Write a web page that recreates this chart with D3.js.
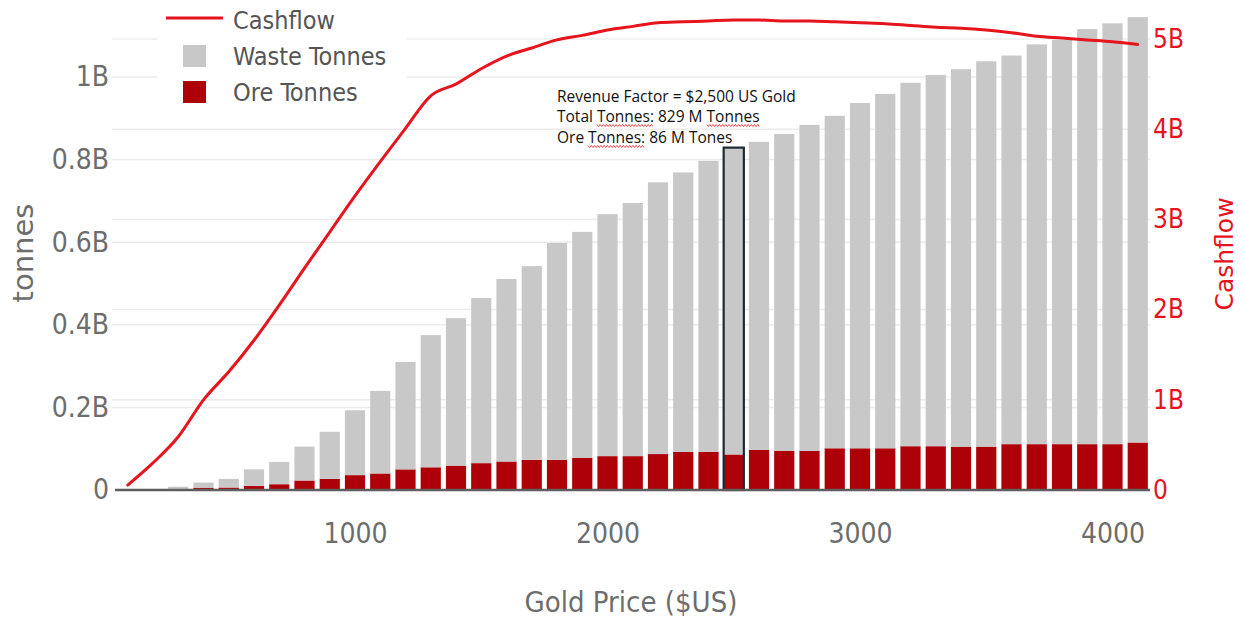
<!DOCTYPE html>
<html>
<head>
<meta charset="utf-8">
<script src="https://cdn.jsdelivr.net/npm/d3@7"></script>
<style>
  html, body { margin: 0; padding: 0; background: #ffffff; }
  svg { display: block; }
  .cond { font-family: "DejaVu Sans Condensed", "DejaVu Sans", sans-serif; font-stretch: condensed; }
  .plain { font-family: "DejaVu Sans", sans-serif; }
  .note { font-family: "Open Sans", sans-serif; }
</style>
</head>
<body>
<svg id="chart" width="1245" height="618"></svg>
<script>
// Gold price scenarios ($US / oz)
const goldPrice = [100, 200, 300, 400, 500, 600, 700, 800, 900, 1000,
  1100, 1200, 1300, 1400, 1500, 1600, 1700, 1800, 1900, 2000,
  2100, 2200, 2300, 2400, 2500, 2600, 2700, 2800, 2900, 3000,
  3100, 3200, 3300, 3400, 3500, 3600, 3700, 3800, 3900, 4000, 4100];

// Ore tonnes per scenario (millions of tonnes)
const oreMt = [0.2, 0.5, 1.5, 5.5, 6, 10, 14, 23, 27, 36,
  40, 50, 55, 59, 65, 69, 73, 73, 78, 82,
  82, 87, 92, 92, 86, 97, 95, 95, 101, 101,
  101, 106, 106, 105, 105, 111, 111, 111, 111, 111, 115];

// Waste tonnes per scenario (millions of tonnes)
const wasteMt = [0.8, 1.5, 6.5, 12.5, 21, 40, 54, 82, 114, 157,
  200, 260, 320, 357, 400, 442, 469, 525, 547, 586,
  613, 658, 677, 705, 743, 746, 767, 789, 805, 836,
  858, 880, 899, 914, 933, 941, 968, 979, 1005, 1019, 1030];

// Undiscounted cashflow per scenario (billions $US)
const cashflowB = [0.055, 0.30, 0.59, 1.00, 1.31, 1.66, 2.05, 2.46, 2.86, 3.26,
  3.64, 4.01, 4.37, 4.50, 4.67, 4.81, 4.90, 4.99, 5.04, 5.10,
  5.14, 5.18, 5.19, 5.20, 5.21, 5.21, 5.20, 5.20, 5.19, 5.18,
  5.17, 5.15, 5.13, 5.12, 5.10, 5.07, 5.03, 5.01, 4.99, 4.97, 4.94];

const xTicks = [1000, 2000, 3000, 4000];
const xTickLabels = ["1000", "2000", "3000", "4000"];
const tonneTicks = [0, 0.2e9, 0.4e9, 0.6e9, 0.8e9, 1e9];
const tonneTickLabels = ["0", "0.2B", "0.4B", "0.6B", "0.8B", "1B"];
const cashTicks = [0, 1e9, 2e9, 3e9, 4e9, 5e9];
const cashTickLabels = ["0", "1B", "2B", "3B", "4B", "5B"];

const seriesNames = ["Cashflow", "Waste Tonnes", "Ore Tonnes"];
const highlightPrice = 2500;
const annotationLines = [
  "Revenue Factor = $2,500 US Gold",
  "Total Tonnes: 829 M Tonnes",
  "Ore Tonnes: 86 M Tones"
];
// words flagged with a wavy underline: [line index, substring]
const flaggedWords = [[1, "Tonnes:"], [1, "Tonnes"], [2, "Tonnes:"]];

const colors = {
  ore: "#ae0009",
  waste: "#c8c8c8",
  cash: "#e5141d",
  grid: "#ececec",
  axis: "#5e5e5e",
  tick: "#6d6d6d",
  legendText: "#555555",
  highlight: "#1b2a34"
};

const rows = goldPrice.map((p, i) => ({
  price: p,
  ore: oreMt[i] * 1e6,
  waste: wasteMt[i] * 1e6,
  cash: cashflowB[i] * 1e9
}));

const svg = d3.select("#chart");

const plotLeft = 112, plotRight = 1150, baseY = 490;

const x = d3.scaleLinear().domain([1000, 4000]).range([355, 1112.5]);
const yT = d3.scaleLinear().domain([0, 1e9]).range([baseY, 77]);
const yC = d3.scaleLinear().domain([0, 5e9]).range([baseY, 39]);
const barW = (x(100) - x(0)) * 0.8;

// gridlines for both value axes
const grid = svg.append("g");
grid.selectAll("line.gt").data(tonneTicks.slice(1)).join("line")
  .attr("x1", plotLeft).attr("x2", plotRight)
  .attr("y1", d => yT(d)).attr("y2", d => yT(d))
  .attr("stroke", colors.grid).attr("stroke-width", 1.5);
grid.selectAll("line.gc").data(cashTicks.slice(1)).join("line")
  .attr("x1", plotLeft).attr("x2", plotRight)
  .attr("y1", d => yC(d)).attr("y2", d => yC(d))
  .attr("stroke", colors.grid).attr("stroke-width", 1.5);

// stacked tonnage bars
const stack = d3.stack().keys(["ore", "waste"])(rows);
const barG = svg.append("g");
barG.selectAll("g").data(stack).join("g")
  .attr("fill", d => d.key === "ore" ? colors.ore : colors.waste)
  .selectAll("rect").data(d => d).join("rect")
  .attr("x", d => x(d.data.price) - barW / 2)
  .attr("width", barW)
  .attr("y", d => yT(d[1]))
  .attr("height", d => yT(d[0]) - yT(d[1]));

// outline for the selected revenue factor
const hi = rows.find(r => r.price === highlightPrice);
svg.append("rect")
  .attr("x", x(hi.price) - barW / 2)
  .attr("y", yT(hi.ore + hi.waste))
  .attr("width", barW)
  .attr("height", yT(0) - yT(hi.ore + hi.waste))
  .attr("fill", "none")
  .attr("stroke", colors.highlight)
  .attr("stroke-width", 2.2);

// baseline
svg.append("line")
  .attr("x1", 115).attr("x2", plotRight)
  .attr("y1", baseY).attr("y2", baseY)
  .attr("stroke", colors.axis).attr("stroke-width", 2.5);

// cashflow curve on the right axis
const line = d3.line()
  .x(d => x(d.price))
  .y(d => yC(d.cash))
  .curve(d3.curveMonotoneX);
svg.append("path").datum(rows)
  .attr("d", line)
  .attr("fill", "none")
  .attr("stroke", colors.cash)
  .attr("stroke-width", 3)
  .attr("stroke-linecap", "round");

// x axis
const xAxis = svg.append("g")
  .attr("transform", `translate(0,${baseY})`)
  .call(d3.axisBottom(x).tickValues(xTicks)
    .tickFormat((d, i) => xTickLabels[i]).tickSize(0).tickPadding(33));
xAxis.select(".domain").remove();
xAxis.selectAll("text").attr("class", "cond")
  .attr("font-size", 28).attr("fill", colors.tick);

// left axis (tonnes)
const lAxis = svg.append("g")
  .attr("transform", `translate(${plotLeft},0)`)
  .call(d3.axisLeft(yT).tickValues(tonneTicks)
    .tickFormat((d, i) => tonneTickLabels[i]).tickSize(0).tickPadding(3));
lAxis.select(".domain").remove();
lAxis.selectAll("text").attr("class", "cond")
  .attr("font-size", 28).attr("fill", colors.tick);

// right axis (cashflow)
const rAxis = svg.append("g")
  .attr("transform", `translate(${plotRight},0)`)
  .call(d3.axisRight(yC).tickValues(cashTicks)
    .tickFormat((d, i) => cashTickLabels[i]).tickSize(0).tickPadding(3));
rAxis.select(".domain").remove();
rAxis.selectAll("text").attr("class", "cond")
  .attr("font-size", 26).attr("fill", colors.cash);

// axis titles
svg.append("text").attr("class", "cond")
  .attr("x", 631).attr("y", 612)
  .attr("text-anchor", "middle")
  .attr("font-size", 29).attr("fill", colors.tick)
  .text("Gold Price ($US)");
svg.append("text").attr("class", "plain")
  .attr("transform", "translate(33,253) rotate(-90)")
  .attr("text-anchor", "middle")
  .attr("font-size", 29).attr("fill", colors.tick)
  .text("tonnes");
svg.append("text").attr("class", "plain")
  .attr("transform", "translate(1233,254) rotate(-90)")
  .attr("text-anchor", "middle")
  .attr("font-size", 25).attr("fill", colors.cash)
  .text("Cashflow");

// annotation for the highlighted scenario
const noteX = 557;
const noteY = [102, 122, 143];
const noteTexts = annotationLines.map((t, i) =>
  svg.append("text").attr("class", "note")
    .attr("x", noteX).attr("y", noteY[i])
    .attr("font-size", 15.5).attr("fill", "#111111")
    .text(t));

function wavy(x0, x1, y) {
  const pts = [];
  const step = 1.6;
  let k = 0;
  for (let xx = x0; xx <= x1; xx += step, k++) {
    pts.push([xx, y + (k % 2 === 0 ? -1 : 1)]);
  }
  return d3.line()(pts);
}
const usedFrom = {};
flaggedWords.forEach(([li, word]) => {
  const node = noteTexts[li].node();
  const txt = annotationLines[li];
  const key = li + word;
  let idx = txt.indexOf(word, usedFrom[li] || 0);
  if (idx < 0) return;
  usedFrom[li] = idx + word.length;
  const start = noteX + (idx > 0 ? node.getSubStringLength(0, idx) : 0);
  const w = node.getSubStringLength(idx, word.length);
  svg.append("path")
    .attr("d", wavy(start, start + w, noteY[li] + 3.5))
    .attr("fill", "none")
    .attr("stroke", "#e0303a")
    .attr("stroke-width", 0.9);
});

// legend
const legend = svg.append("g");
legend.append("rect")
  .attr("x", 157).attr("y", 0).attr("width", 250).attr("height", 110)
  .attr("fill", "#ffffff");
legend.append("line")
  .attr("x1", 166).attr("x2", 223).attr("y1", 18).attr("y2", 18)
  .attr("stroke", colors.cash).attr("stroke-width", 3);
legend.append("rect")
  .attr("x", 183).attr("y", 45).attr("width", 23).attr("height", 22)
  .attr("fill", colors.waste);
legend.append("rect")
  .attr("x", 183).attr("y", 81).attr("width", 23).attr("height", 22)
  .attr("fill", colors.ore);
const legendY = [20, 56, 92];
legend.selectAll("text").data(seriesNames).join("text")
  .attr("class", "cond")
  .attr("x", 233).attr("y", (d, i) => legendY[i])
  .attr("dy", "0.35em")
  .attr("font-size", 25).attr("fill", colors.legendText)
  .text(d => d);
</script>
</body>
</html>
